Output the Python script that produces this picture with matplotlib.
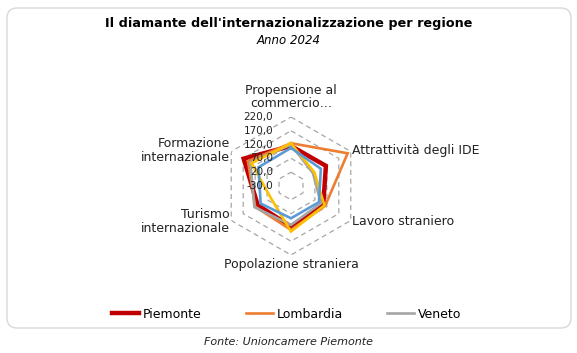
import numpy as np
import matplotlib.pyplot as plt
from matplotlib.patches import FancyBboxPatch

plt.rcParams['font.family'] = ['DejaVu Sans']

categories = ["Propensione al\ncommercio…", "Attrattività degli IDE", "Lavoro straniero",
              "Popolazione straniera", "Turismo\ninternazionale", "Formazione\ninternazionale"]
regions = ["Piemonte", "Lombardia", "Veneto", "Emilia-Romagna", "Italia"]
piemonte = [115, 116, 105, 117, 109, 168]
lombardia = [125, 207, 113, 129, 120, 150]
veneto = [120, 62, 95, 111, 123, 140]
emilia = [125, 68, 110, 135, 55, 135]
italia = [108, 95, 87, 87, 97, 106]
ring_values = [-30, 20, 70, 120, 170, 220]

series = [piemonte, lombardia, veneto, emilia, italia]
colors = ["#C00000", "#ED7D31", "#A5A5A5", "#FFC000", "#5B9BD5"]
widths = [3.2, 1.9, 1.9, 1.9, 1.9]

W, H = 577, 353
fig = plt.figure(figsize=(W / 100, H / 100), dpi=100)

# rounded chart border
box = FancyBboxPatch((7 / W, 25 / H), 564 / W, 320 / H,
                     boxstyle="round,pad=0,rounding_size=%f" % (10 / W),
                     mutation_aspect=W / H, transform=fig.transFigure,
                     facecolor="none", edgecolor="#D9D9D9", linewidth=1, zorder=-1)
fig.patches.append(box)

fig.text(0.5, 1 - 24 / H, "Il diamante dell'internazionalizzazione per regione",
         ha='center', va='center', fontsize=9.2, fontweight='bold')
fig.text(0.5, 1 - 41 / H, "Anno 2024", ha='center', va='center', fontsize=8.5, style='italic')
fig.text(0.5, 1 - 342 / H, "Fonte: Unioncamere Piemonte", ha='center', va='center',
         fontsize=8, style='italic', color='#222222')

cx, cy, rad = 291, 186, 69
ax = fig.add_axes([(cx - rad) / W, (H - cy - rad) / H, 2 * rad / W, 2 * rad / H], projection='polar')
ax.set_theta_offset(np.pi / 2)
ax.set_theta_direction(-1)
ax.set_ylim(-30, 220)
ax.grid(False)
ax.set_xticks([])
ax.set_yticks([])
ax.spines['polar'].set_visible(False)
ax.patch.set_visible(False)

n = len(categories)
angles = np.linspace(0, 2 * np.pi, n, endpoint=False)
closed = np.append(angles, angles[0])

# hexagonal gridlines
for v in ring_values[1:]:
    ax.plot(closed, [v] * (n + 1), color="#A6A6A6", lw=0.9, ls=(0, (4, 3)), zorder=1)

lines = []
for vals, c, lw, name in zip(series, colors, widths, regions):
    ln, = ax.plot(closed, vals + vals[:1], color=c, lw=lw, label=name, zorder=3,
                  solid_joinstyle='miter')
    lines.append(ln)

# radial value labels
for v in ring_values:
    ax.annotate(f"{v:.1f}".replace('.', ','), xy=(0, v), xytext=(-13, 0), textcoords='offset points',
                ha='right', va='center', fontsize=7.5, color='#222222', zorder=5)

# category labels
align = [('center', 'bottom', 244), ('left', 'center', 224), ('left', 'center', 224),
         ('center', 'top', 232), ('right', 'center', 226), ('right', 'center', 226)]
for ang, lab, (ha, va, r) in zip(angles, categories, align):
    ax.text(ang, r, lab, ha=ha, va=va, fontsize=9, color='#222222', linespacing=1.05)

fig.legend(handles=lines[:3], labels=regions[:3], loc='center', bbox_to_anchor=(0.497, 1 - 314 / H),
           ncol=3, frameon=False, fontsize=9, handlelength=2.2, handletextpad=0.3,
           columnspacing=3.5)

fig.savefig("out.png", dpi=100)
